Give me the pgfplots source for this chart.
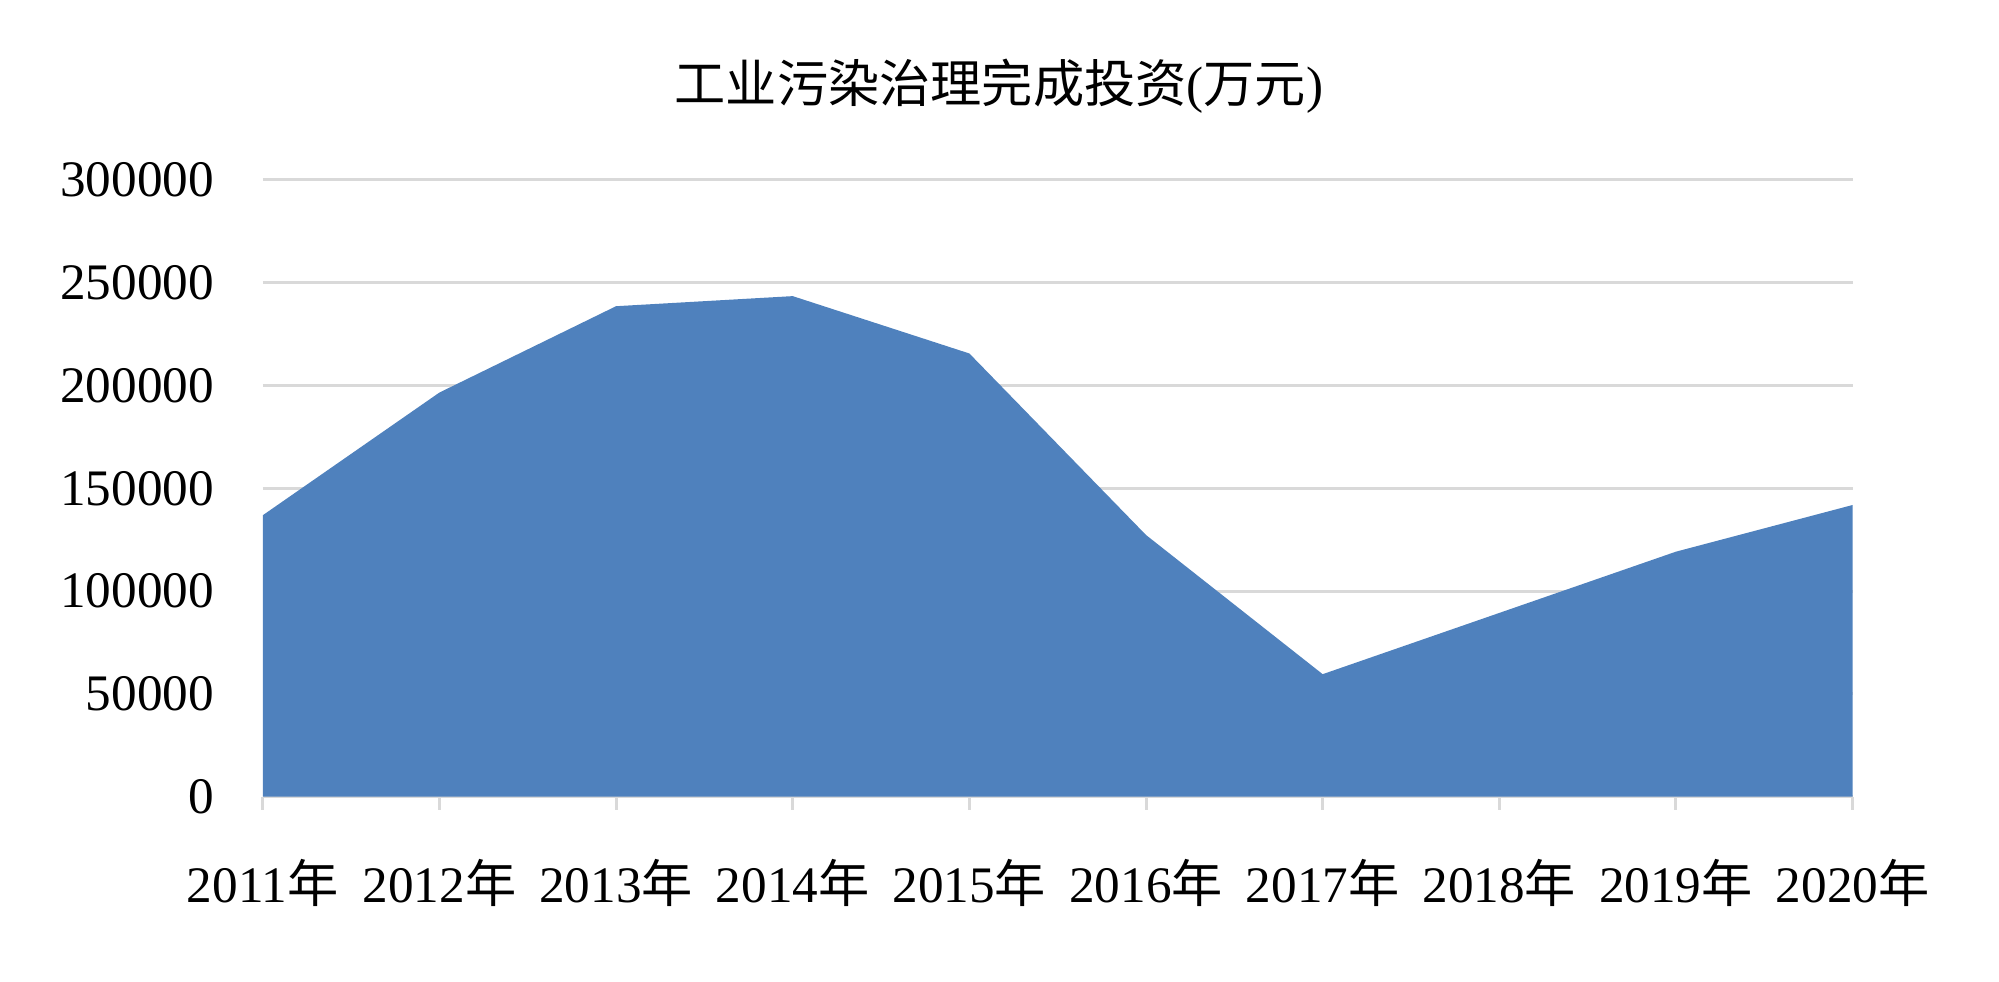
\documentclass[border=0pt]{standalone}
\usepackage{fontspec}
\setmainfont{Liberation Serif}
\newfontfamily\cjk{Noto Sans CJK SC}
\usepackage{pgfplots}
\pgfplotsset{compat=1.18}
\definecolor{areablue}{HTML}{4F81BD}
\definecolor{gridgray}{HTML}{D9D9D9}
\newcommand{\nian}{{\cjk 年}}
\begin{document}
\begin{tikzpicture}
\path[use as bounding box] (-65.7pt,-46.3pt) rectangle (434.1pt,199.2pt);
\begin{axis}[
    at={(0,0)}, anchor=south west,
    scale only axis, width=397.5pt, height=154.2pt,
    xmin=0, xmax=9, ymin=0, ymax=300000,
    xtick={0,...,9},
    xticklabels={2011\nian,2012\nian,2013\nian,2014\nian,2015\nian,2016\nian,2017\nian,2018\nian,2019\nian,2020\nian},
    ytick={0,50000,100000,150000,200000,250000,300000},
    yticklabels={0,50000,100000,150000,200000,250000,300000},
    scaled y ticks=false,
    axis x line*=bottom, axis y line*=left,
    y axis line style={draw=none},
    x axis line style={gridgray, line width=0.75pt, -},
    ytick style={draw=none},
    xtick style={gridgray, line width=0.75pt},
    tick align=outside, major tick length=3.2pt,
    ymajorgrids, grid style={gridgray, line width=0.75pt},
    tick label style={font=\fontsize{12.8}{15}\selectfont},
    yticklabel style={xshift=-5.5pt},
    xticklabel style={yshift=-9pt},
    title={{\cjk 工业污染治理完成投资}({\cjk 万元})},
    title style={at={(0.463,1)}, anchor=center, yshift=17.4pt, font=\fontsize{12.8}{15}\selectfont},
]
\addplot[fill=areablue, draw=none] coordinates {
    (0,136900) (1,196600) (2,238600) (3,243500) (4,215600)
    (5,127300) (6,59600) (7,89400) (8,119200) (9,141900)
} \closedcycle;
\end{axis}
\end{tikzpicture}
\end{document}
